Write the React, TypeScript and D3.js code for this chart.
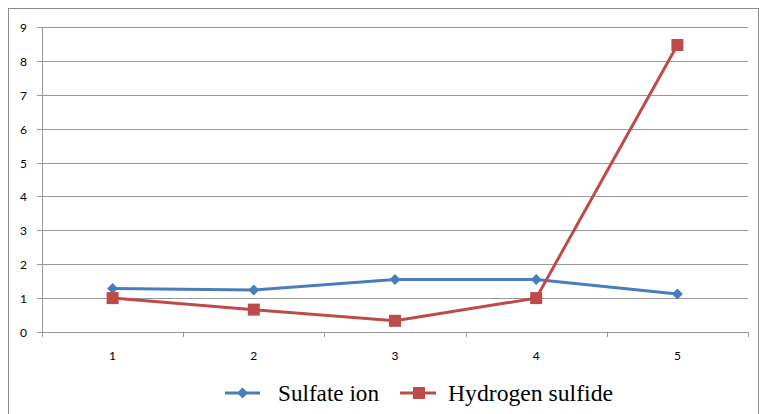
import React from "react";
import * as d3 from "d3";

const categories = ["1", "2", "3", "4", "5"];
const sulfateIon = [1.28, 1.24, 1.55, 1.55, 1.12];
const hydrogenSulfide = [1.0, 0.66, 0.33, 1.0, 8.47];
const yTicks = [0, 1, 2, 3, 4, 5, 6, 7, 8, 9];

const W = 759;
const H = 414;
const plot = { left: 42, right: 748, top: 27, bottom: 332 };
const BLUE = "#4a7ebb";
const RED = "#be4b48";
const GRID = "#9a9a9a";

export default function App() {
  const x = d3
    .scaleBand<string>()
    .domain(categories)
    .range([plot.left, plot.right])
    .paddingInner(0)
    .paddingOuter(0);
  const y = d3.scaleLinear().domain([0, 9]).range([plot.bottom, plot.top]);
  const cx = (c: string) => (x(c) ?? 0) + x.bandwidth() / 2;
  const line = d3
    .line<number>()
    .x((_, i) => cx(categories[i]))
    .y((d) => y(d));

  const boundaries = categories.map((c) => x(c) ?? 0).concat([plot.right]);
  const diamond = (px: number, py: number, r: number) =>
    `M${px},${py - r}L${px + r},${py}L${px},${py + r}L${px - r},${py}Z`;

  return (
    <svg
      width={W}
      height={H}
      style={{ position: "absolute", left: 0, top: 0, display: "block" }}
    >
      <rect x={0} y={0} width={W} height={H} fill="#fff" />
      <rect x={8.5} y={8.5} width={W - 9} height={H} fill="#fff" stroke="#8c8c8c" strokeWidth={1} />

      {/* horizontal gridlines and y ticks */}
      {yTicks.map((t) => (
        <g key={t}>
          <line
            x1={plot.left - 5}
            x2={plot.right}
            y1={Math.round(y(t)) + 0.5}
            y2={Math.round(y(t)) + 0.5}
            stroke={GRID}
            strokeWidth={1}
          />
          <text
            x={27}
            y={Math.round(y(t)) + 4.5}
            textAnchor="end"
            fontFamily="Lato, 'Open Sans', sans-serif"
            fontSize={12}
            fill="#000"
          >
            {t}
          </text>
        </g>
      ))}

      {/* y axis */}
      <line
        x1={plot.left + 0.5}
        x2={plot.left + 0.5}
        y1={plot.top}
        y2={plot.bottom + 5}
        stroke={GRID}
      />
      {/* x tick marks */}
      {boundaries.map((b, i) => (
        <line
          key={i}
          x1={Math.round(b) + 0.5}
          x2={Math.round(b) + 0.5}
          y1={plot.bottom}
          y2={plot.bottom + 5}
          stroke={GRID}
        />
      ))}
      {categories.map((c) => (
        <text
          key={c}
          x={cx(c)}
          y={360}
          textAnchor="middle"
          fontFamily="Lato, 'Open Sans', sans-serif"
          fontSize={12}
          fill="#000"
        >
          {c}
        </text>
      ))}

      {/* series */}
      <path d={line(sulfateIon) ?? ""} fill="none" stroke={BLUE} strokeWidth={3} strokeLinejoin="round" />
      {sulfateIon.map((v, i) => (
        <path key={i} d={diamond(cx(categories[i]), y(v), 5.5)} fill={BLUE} />
      ))}
      <path d={line(hydrogenSulfide) ?? ""} fill="none" stroke={RED} strokeWidth={3} strokeLinejoin="round" />
      {hydrogenSulfide.map((v, i) => (
        <rect
          key={i}
          x={cx(categories[i]) - 6}
          y={y(v) - 6}
          width={12}
          height={12}
          fill={RED}
        />
      ))}

      {/* legend */}
      <line x1={225} x2={260} y1={393} y2={393} stroke={BLUE} strokeWidth={3} />
      <path d={diamond(242.5, 393, 5.5)} fill={BLUE} />
      <text x={278} y={401} fontFamily="'Liberation Serif', 'Times New Roman', serif" fontSize={23.5} fill="#000" textLength={101} lengthAdjust="spacingAndGlyphs">
        Sulfate ion
      </text>
      <line x1={400} x2={436} y1={393} y2={393} stroke={RED} strokeWidth={3} />
      <rect x={413} y={387} width={12} height={12} fill={RED} />
      <text x={448} y={401} fontFamily="'Liberation Serif', 'Times New Roman', serif" fontSize={23.5} fill="#000" textLength={165} lengthAdjust="spacingAndGlyphs">
        Hydrogen sulfide
      </text>
    </svg>
  );
}
